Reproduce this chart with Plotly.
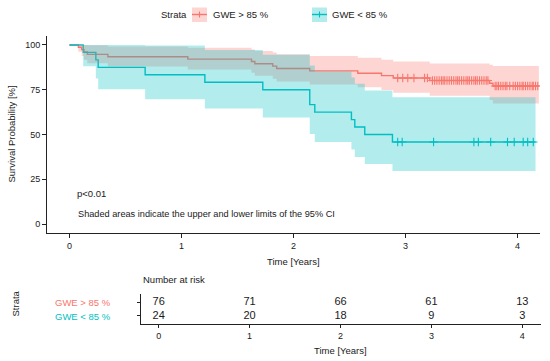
import numpy as np
import plotly.graph_objects as go

# ---------------- data ----------------
red_name = "GWE > 85 %"
teal_name = "GWE < 85 %"

red_t = [0, 0.08, 0.11, 0.13, 0.16, 0.343, 1.057, 1.625, 1.655, 1.815, 1.85,
         2.145, 2.574, 2.785, 2.89, 3.216, 3.75, 3.78]
red_s = [100, 98.68, 97.37, 96.05, 94.74, 93.42, 92.11, 90.79, 89.47, 88.16, 86.84,
         85.53, 84.21, 82.89, 81.58, 80.15, 78.6, 77.1]
red_lo = [100, 96.15, 93.84, 91.77, 89.85, 88.01, 86.24, 84.52, 82.84, 81.19, 79.56,
          77.98, 76.40, 74.84, 73.31, 71.64, 69.3, 67.3]
red_hi = [100, 100, 100, 100, 99.9, 99.17, 98.37, 97.53, 96.65, 95.73, 94.79,
          93.82, 92.82, 91.80, 90.78, 89.68, 88.9, 88.3]
red_end = 4.19
red_cens = [2.93, 2.975, 3.02, 3.075, 3.17, 3.195,
            3.24, 3.26, 3.28, 3.30, 3.32, 3.335, 3.35, 3.37, 3.39, 3.41, 3.43, 3.45,
            3.465, 3.48, 3.50, 3.52, 3.54, 3.555, 3.57, 3.59, 3.61, 3.625, 3.64,
            3.66, 3.68, 3.70, 3.72, 3.735,
            3.80, 3.815, 3.83, 3.85, 3.87, 3.89, 3.905, 3.93, 3.96, 3.98, 4.00,
            4.02, 4.04, 4.05, 4.07, 4.09, 4.11, 4.13, 4.14, 4.16, 4.18]

teal_t = [0, 0.123, 0.236, 0.257, 0.676, 1.209, 1.726, 2.145, 2.19, 2.517, 2.547,
          2.636, 2.883]
teal_s = [100, 95.83, 91.67, 87.5, 83.33, 79.17, 75.0, 66.67, 62.5, 58.33, 54.17,
          50.0, 45.83]
teal_lo = [100, 88.16, 81.26, 75.22, 69.68, 64.48, 59.53, 50.24, 45.84, 41.60, 37.49,
           33.51, 29.67]
teal_hi = [100, 100, 100, 100, 99.66, 97.20, 94.49, 88.47, 85.21, 81.80, 78.27,
           74.59, 70.80]
teal_end = 4.16
teal_cens = [2.93, 2.97, 3.25, 3.61, 3.65, 3.76, 3.91, 3.97, 4.05, 4.09, 4.14]

risk_times = [0, 1, 2, 3, 4]
red_risk = [76, 71, 66, 61, 13]
teal_risk = [24, 20, 18, 9, 3]

x_ticks = [0, 1, 2, 3, 4]
y_ticks = [0, 25, 50, 75, 100]

RED = "#F8766D"
TEAL = "#00BFC4"
RED_F = "rgba(248,118,109,0.3)"
TEAL_F = "rgba(0,191,196,0.3)"
FONT = "Liberation Sans, Arial, sans-serif"
TXT = "#1a1a1a"

W, H = 550, 361


def px(x):
    return x / W


def py(y):
    return 1 - y / H


def ext(t, v, end):
    return list(t) + [end], list(v) + [v[-1]]


def step_val(ts, vs, c):
    i = int(np.searchsorted(np.array(ts), c, side="right")) - 1
    return vs[i]


fig = go.Figure()

# survival lines (drawn first; ribbons go above as in the reference)
for t, s, end, col, nm in [(red_t, red_s, red_end, RED, red_name),
                            (teal_t, teal_s, teal_end, TEAL, teal_name)]:
    xx, yy = ext(t, s, end)
    fig.add_trace(go.Scatter(x=xx, y=yy, mode="lines", line=dict(color=col, width=1.4, shape="hv"),
                             name=nm, showlegend=False, xaxis="x", yaxis="y"))

# confidence ribbons
for t, lo, hi, end, fc in [(red_t, red_lo, red_hi, red_end, RED_F),
                           (teal_t, teal_lo, teal_hi, teal_end, TEAL_F)]:
    xl, yl = ext(t, lo, end)
    xh, yh = ext(t, hi, end)
    fig.add_trace(go.Scatter(x=xl, y=yl, mode="lines", line=dict(width=0, shape="hv"),
                             showlegend=False, hoverinfo="skip", xaxis="x", yaxis="y"))
    fig.add_trace(go.Scatter(x=xh, y=yh, mode="lines", line=dict(width=0, shape="hv"),
                             fill="tonexty", fillcolor=fc, showlegend=False, hoverinfo="skip",
                             xaxis="x", yaxis="y"))

# censor marks
for t, s, cens, col in [(red_t, red_s, red_cens, RED), (teal_t, teal_s, teal_cens, TEAL)]:
    fig.add_trace(go.Scatter(x=cens, y=[step_val(t, s, c) for c in cens], mode="markers",
                             marker=dict(symbol="cross-thin", size=6, line=dict(color=col, width=1.1)),
                             showlegend=False, xaxis="x", yaxis="y"))

# risk table
fig.add_trace(go.Scatter(x=risk_times, y=[2] * len(risk_times), mode="text",
                         text=[str(v) for v in red_risk],
                         textfont=dict(family=FONT, size=11, color=TXT),
                         showlegend=False, xaxis="x2", yaxis="y2"))
fig.add_trace(go.Scatter(x=risk_times, y=[1] * len(risk_times), mode="text",
                         text=[str(v) for v in teal_risk],
                         textfont=dict(family=FONT, size=11, color=TXT),
                         showlegend=False, xaxis="x2", yaxis="y2"))

axis_common = dict(showline=True, linecolor="#222", linewidth=1, ticks="outside",
                   tickcolor="#222", tickwidth=1, showgrid=False, zeroline=False,
                   tickfont=dict(family=FONT, size=9, color=TXT), automargin=False)

fig.update_layout(
    width=W, height=H,
    margin=dict(l=0, r=0, t=0, b=0),
    paper_bgcolor="white", plot_bgcolor="white",
    showlegend=False,
    xaxis=dict(domain=[px(47), px(540)], range=[-0.2, 4.2], tickvals=x_ticks, ticklen=4,
               anchor="y", **axis_common),
    yaxis=dict(domain=[py(233), py(36)], range=[-5, 105], tickvals=y_ticks, ticklen=4,
               anchor="x", **axis_common),
    xaxis2=dict(domain=[px(140.5), px(540.5)], range=[-0.2, 4.2], tickvals=x_ticks, ticklen=3,
                anchor="y2", **axis_common),
    yaxis2=dict(domain=[py(324), py(294)], range=[0.4, 2.6], tickvals=[1, 2], ticklen=3,
                showticklabels=False, anchor="x2", **axis_common),
)

ann = []


def label(text, x, y, size=9.5, color=TXT, xanchor="center", angle=0, xref="paper", yref="paper"):
    ann.append(dict(text=text, x=x, y=y, xref=xref, yref=yref, xanchor=xanchor, yanchor="middle",
                    showarrow=False, textangle=angle, font=dict(family=FONT, size=size, color=color)))


label("Survival Probability [%]", px(11), py(134.5), angle=-90)
label("Time [Years]", px(293.5), py(261))
label("p<0.01", 0.05, 16.8, size=9.5, xanchor="left", xref="x", yref="y")
label("Shaded areas indicate the upper and lower limits of the 95% CI", 0.06, 5.8, size=9.2,
      xanchor="left", xref="x", yref="y")
label("Number at risk", px(141), py(279), xanchor="left")
label("Strata", px(14.5), py(304), angle=-90)
label(red_name, px(53), py(302), color=RED, xanchor="left")
label(teal_name, px(53), py(316), color=TEAL, xanchor="left")
label("Time [Years]", px(340.5), py(350))

# legend
label("Strata", px(159), py(14.5), xanchor="left")
label(red_name, px(211), py(14.5), xanchor="left")
label(teal_name, px(330), py(14.5), xanchor="left")

shapes = []
for x0, col, fc in [(192, RED, RED_F), (312, TEAL, TEAL_F)]:
    shapes.append(dict(type="rect", xref="paper", yref="paper", x0=px(x0), x1=px(x0 + 15),
                       y0=py(22), y1=py(7.5), fillcolor=fc, line=dict(width=0)))
    shapes.append(dict(type="line", xref="paper", yref="paper", x0=px(x0), x1=px(x0 + 15),
                       y0=py(14.5), y1=py(14.5), line=dict(color=col, width=1.4)))
    shapes.append(dict(type="line", xref="paper", yref="paper", x0=px(x0 + 7.5), x1=px(x0 + 7.5),
                       y0=py(11.5), y1=py(17.5), line=dict(color=col, width=1.1)))

fig.update_layout(annotations=ann, shapes=shapes)

fig.write_html("out.html", config={"displayModeBar": False},
               post_script="document.body.style.margin='0';document.body.style.padding='0';"
                           "document.documentElement.style.overflow='hidden';")
